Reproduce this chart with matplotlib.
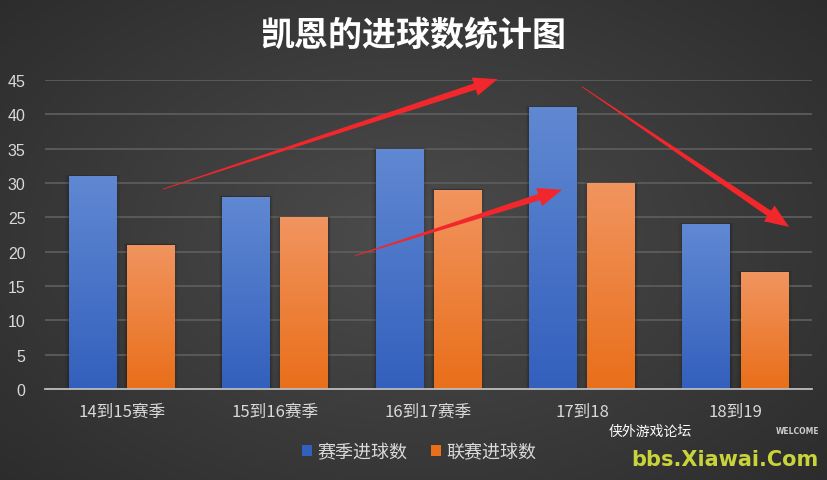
import matplotlib
import numpy as np

matplotlib.use("Agg")
import matplotlib.pyplot as plt  # noqa: E402
from matplotlib.colors import LinearSegmentedColormap  # noqa: E402
from matplotlib.patches import Polygon  # noqa: E402

plt.rcParams["font.family"] = ["Noto Sans CJK SC", "DejaVu Sans"]

TITLE = "凯恩的进球数统计图"
SEASONS = ["14到15赛季", "15到16赛季", "16到17赛季", "17到18", "18到19"]
SEASON_GOALS = [31, 28, 35, 41, 24]
LEAGUE_GOALS = [21, 25, 29, 30, 17]
LABELS = ["赛季进球数", "联赛进球数"]
Y_TICKS = [0, 5, 10, 15, 20, 25, 30, 35, 40, 45]

# annotation arrows (data coords): tail -> head
ARROWS = [((0.27, 29.1), (2.45, 45.1)),
          ((1.52, 19.4), (2.87, 29.0)),
          ((3.00, 44.0), (4.35, 23.6))]

BLUE = ("#3360bd", "#6088d2")
ORANGE = ("#e96f1a", "#f1945f")
TXT = "#d9d9d9"

fig = plt.figure(figsize=(8.27, 4.81), dpi=100)

# radial gradient background
bg = fig.add_axes([0, 0, 1, 1], zorder=0)
yy, xx = np.mgrid[-1:1:300j, -1:1:500j]
r = np.sqrt(xx ** 2 + (yy * 0.9) ** 2)
bg.imshow(r, cmap=LinearSegmentedColormap.from_list("bg", ["#4c4c4c", "#2a2a2a"]),
          extent=[0, 1, 0, 1], aspect="auto", vmin=0, vmax=1.45)
bg.axis("off")

ax = fig.add_axes([0.0544, 0.189, 0.9276, 0.643], zorder=1)
ax.patch.set_alpha(0)
x = np.arange(len(SEASONS))
w = 0.31
b1 = ax.bar(x - 0.19, SEASON_GOALS, w, color=BLUE[0], label=LABELS[0], zorder=3)
b2 = ax.bar(x + 0.19, LEAGUE_GOALS, w, color=ORANGE[0], label=LABELS[1], zorder=3)

ax.set_xlim(-0.5, len(SEASONS) - 0.5)
ax.set_ylim(0, 45)

# vertical gradient fill + soft shadow on each bar
for bars, (c0, c1) in ((b1, BLUE), (b2, ORANGE)):
    cmap = LinearSegmentedColormap.from_list("g", [c0, c1])
    for p in bars:
        x0, y0 = p.get_x(), p.get_y()
        bw, bh = p.get_width(), p.get_height()
        for k, a in ((0.022, 0.06), (0.012, 0.08), (0.005, 0.10)):
            ax.add_patch(plt.Rectangle((x0 - k, y0), bw + 2 * k, bh + k * 10,
                                       color="black", alpha=a, lw=0, zorder=2))
        im = ax.imshow(np.linspace(0, 1, 64).reshape(-1, 1), cmap=cmap,
                       extent=[x0, x0 + bw, y0, y0 + bh], origin="lower",
                       aspect="auto", zorder=3.5)
        im.set_clip_path(p)


def tapered_arrow(tail, head, body=6.5, hw=19.0, hl=24.0):
    """Thin-tailed arrow drawn in pixel space, widening towards the head."""
    t = ax.transData.transform(tail)
    h = ax.transData.transform(head)
    d = (h - t) / np.linalg.norm(h - t)
    n = np.array([-d[1], d[0]])
    base = h - d * hl
    pts = [t + n * 0.4, base + n * body / 2, base + n * hw / 2, h,
           base - n * hw / 2, base - n * body / 2, t - n * 0.4]
    pts = fig.transFigure.inverted().transform(pts)
    fig.add_artist(Polygon(pts, closed=True, transform=fig.transFigure,
                           color="#f2272c", lw=0, zorder=6))


for tail, head in ARROWS:
    tapered_arrow(tail, head)

ax.set_yticks(Y_TICKS)
ax.set_xticks(x, SEASONS)
ax.yaxis.grid(True, color="#5c5c5c", lw=1.3, zorder=0)
ax.set_axisbelow(True)
for s in ("top", "right", "left"):
    ax.spines[s].set_visible(False)
ax.spines["bottom"].set_color("#bdbdbd")
ax.spines["bottom"].set_linewidth(1.3)
ax.spines["bottom"].set_zorder(4)
ax.tick_params(length=0, colors=TXT, labelsize=12)
ax.tick_params(axis="x", pad=10)
ax.tick_params(axis="y", pad=14)
for lbl in ax.get_yticklabels():
    lbl.set_family(["Liberation Sans", "DejaVu Sans"])
    lbl.set_fontsize(11.5)

fig.text(0.5, 0.927, TITLE, ha="center", va="center", color="white",
         fontsize=24.5, fontweight="bold")

fig.legend(handles=[b1, b2], labels=LABELS, loc="center", bbox_to_anchor=(0.507, 0.058),
           ncol=2, frameon=False, fontsize=13, labelcolor=TXT,
           handlelength=0.55, handleheight=0.55, handletextpad=0.3, columnspacing=1.3)

# forum watermark
fig.text(0.786, 0.102, "侠外游戏论坛", color="white", fontsize=10, ha="center", va="center")
fig.text(0.965, 0.103, "WELCOME", color="#cccccc", fontsize=5.5, ha="center", va="center",
         family="DejaVu Sans", fontweight="bold")
fig.text(0.99, 0.043, "bbs.Xiawai.Com", color="#c8d43a", fontsize=15, ha="right",
         va="center", family="DejaVu Sans", fontweight="bold")

fig.savefig("out.png", dpi=100)
